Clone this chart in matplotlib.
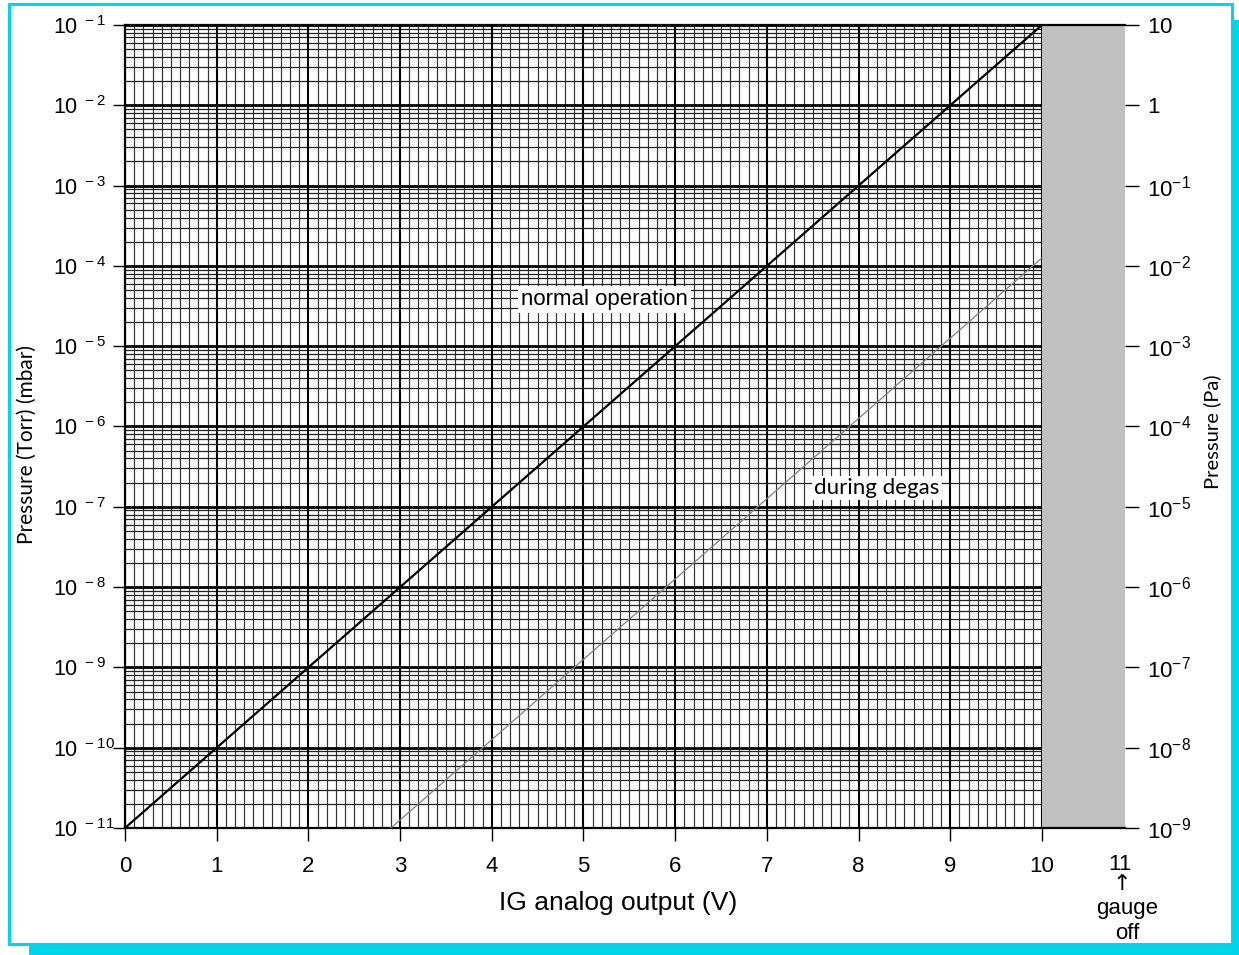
"""IG analog output vs pressure chart."""

import numpy as np
import matplotlib

matplotlib.use("Agg")

import matplotlib.pyplot as plt
from matplotlib.patches import Rectangle

# data
normal_v = [0.0, 10.0]
normal_p = [1e-11, 1e-1]
degas_v = [2.9, 10.0]
degas_p = [1e-11, 1.26e-4]

x_ticks = list(range(0, 11))
left_exps = list(range(-11, 0))
right_labels = ["10^{-9}", "10^{-8}", "10^{-7}", "10^{-6}", "10^{-5}", "10^{-4}",
                "10^{-3}", "10^{-2}", "10^{-1}", "1", "10"]

W, H = 1239, 955
CYAN = "#00D4EA"
GRAY = "#C0C0C0"

plt.rcParams.update({
    "font.family": ["Liberation Sans", "DejaVu Sans"],
    "mathtext.fontset": "custom",
    "mathtext.rm": "Liberation Sans",
})

fig = plt.figure(figsize=(W / 100, H / 100), dpi=100)

# frame with shadow
fig.patches.append(Rectangle((29 / W, 0), (W - 29) / W, 1 - 20 / H,
                             transform=fig.transFigure, facecolor=CYAN,
                             edgecolor="none", zorder=0))
fig.patches.append(Rectangle((8.5 / W, 1 - 944 / H), (1232 - 8.5) / W, (944 - 4) / H,
                             transform=fig.transFigure, facecolor="white",
                             edgecolor=CYAN, linewidth=2.2, zorder=1))

x0, x1 = 125, 1124.5
y0, y1 = 828, 25
ax = fig.add_axes([x0 / W, 1 - y0 / H, (x1 - x0) / W, (y0 - y1) / H])
ax.set_zorder(2)
ax.set_yscale("log")
ax.set_xlim(0, 10.9)
ax.set_ylim(1e-11, 1e-1)

# grid (only over the 0..10 V part)
minor_x = [v / 10 for v in range(0, 101) if v % 10]
ax.vlines(minor_x, 1e-11, 1e-1, color="#333333", lw=0.85, zorder=1)
ax.vlines(x_ticks, 1e-11, 1e-1, color="black", lw=1.5, zorder=1.2)
minor_y = [k * 10.0 ** n for n in range(-11, -1) for k in range(2, 10)]
ax.hlines(minor_y, 0, 10, color="#222222", lw=0.9, zorder=1.1)
ax.hlines([10.0 ** e for e in left_exps], 0, 10, color="black", lw=2.0, zorder=1.3)

ax.axvspan(10, 10.9, color=GRAY, lw=0, zorder=1.5)

ax.plot(normal_v, normal_p, color="black", lw=1.6, zorder=3)
ax.plot(degas_v, degas_p, color="#808080", lw=0.9, zorder=3)

ax.text(5.23, 3.8e-5, "normal operation", fontsize=16, ha="center", va="center",
        family=["Liberation Sans", "DejaVu Sans"],
        zorder=4, bbox=dict(facecolor="white", edgecolor="none", pad=2))
ax.text(8.2, 1.7e-7, "during degas", fontsize=16, family=["Lato", "DejaVu Sans"],
        ha="center", va="center", zorder=4,
        bbox=dict(facecolor="white", edgecolor="none", pad=1.5))

for s in ["top", "bottom", "left"]:
    ax.spines[s].set_linewidth(1.6)
ax.spines["right"].set_visible(False)

ax.set_xticks(x_ticks)
ax.set_xticklabels([str(v) for v in x_ticks])
ax.tick_params(axis="x", length=9, width=1.0, pad=11, labelsize=16)
ax.set_yticks([10.0 ** e for e in left_exps])
ax.set_yticklabels([r"$\mathregular{10^{\,\,%d}}$" % e for e in left_exps])
ax.yaxis.set_minor_locator(matplotlib.ticker.NullLocator())
ax.tick_params(axis="y", length=9, width=1.0, pad=43, labelsize=15.5)
for lab in ax.get_yticklabels():
    lab.set_ha("left")

ax2 = ax.twinx()
ax2.set_yscale("log")
ax2.set_ylim(1e-9, 10)
ax2.set_yticks([10.0 ** e for e in range(-9, 2)])
ax2.set_yticklabels([r"$\mathregular{%s}$" % s for s in right_labels])
ax2.yaxis.set_minor_locator(matplotlib.ticker.NullLocator())
ax2.tick_params(axis="y", length=10, width=1.0, pad=6, labelsize=16)
for s in ["top", "bottom", "left", "right"]:
    ax2.spines[s].set_visible(False)

# axis labels and notes
fig.text(618 / W, 1 - 903 / H, "IG analog output (V)", fontsize=19,
         ha="center", va="center")
fig.text(27 / W, 1 - 445 / H, "Pressure (Torr) (mbar)", fontsize=15,
         family=["Lato", "DejaVu Sans"], rotation=90, ha="center", va="center")
fig.text(1212 / W, 1 - 432 / H, "Pressure (Pa)", fontsize=14.5,
         family=["Lato", "DejaVu Sans"], rotation=90, ha="center", va="center")
fig.text(1120 / W, 1 - 864 / H, "11", fontsize=16, ha="center", va="center")
fig.text(1122 / W, 1 - 884 / H, "\u2191", fontsize=16, ha="center", va="center",
         family=["DejaVu Sans"])
fig.text(1127 / W, 1 - 921 / H, "gauge\noff", fontsize=16, ha="center",
         va="center", linespacing=1.3)

fig.savefig("out.png", dpi=100)
